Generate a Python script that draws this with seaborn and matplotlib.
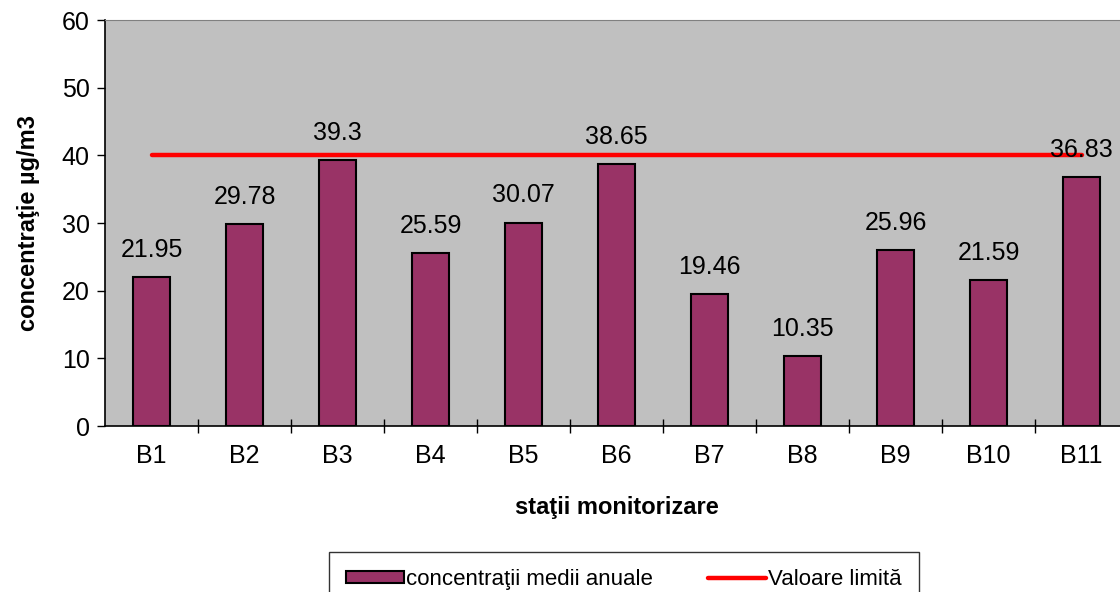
import matplotlib
matplotlib.use('Agg')
import matplotlib.pyplot as plt
from matplotlib.patches import Patch
from matplotlib.lines import Line2D
import seaborn as sns
import pandas as pd
import numpy as np

stations = ['B1', 'B2', 'B3', 'B4', 'B5', 'B6', 'B7', 'B8', 'B9', 'B10', 'B11']
values = [21.95, 29.78, 39.3, 25.59, 30.07, 38.65, 19.46, 10.35, 25.96, 21.59, 36.83]
value_labels = ['21.95', '29.78', '39.3', '25.59', '30.07', '38.65', '19.46', '10.35', '25.96', '21.59', '36.83']
limit = 40
y_ticks = [0, 10, 20, 30, 40, 50, 60]

sns.set_style('white')
plt.rcParams['font.family'] = ['Liberation Sans', 'DejaVu Sans']
plt.rcParams['text.color'] = 'black'
plt.rcParams['axes.labelcolor'] = 'black'
plt.rcParams['xtick.color'] = 'black'
plt.rcParams['ytick.color'] = 'black'

bar_color = '#993366'
df = pd.DataFrame({'station': stations, 'value': values})

fig = plt.figure(figsize=(11.2, 5.92), dpi=100)
ax = fig.add_axes([0.09375, 0.2804, 0.9134, 0.6858])
ax.set_facecolor('#C0C0C0')

sns.barplot(data=df, x='station', y='value', color=bar_color, edgecolor='black',
            linewidth=1.5, width=0.4, saturation=1, ax=ax, legend=False)
ax.plot(range(len(stations)), [limit] * len(stations), color='#FF0000', lw=3.2,
        solid_capstyle='round', zorder=3)

ax.bar_label(ax.containers[0], labels=value_labels, padding=11, fontsize=18)

ax.set_xlim(-0.5, len(stations) - 0.5)
ax.set_ylim(0, 60)
ax.set_yticks(y_ticks)
ax.tick_params(axis='y', direction='out', length=6, width=1, labelsize=18, pad=5, left=True)
ax.tick_params(axis='x', which='major', length=0, labelsize=18, pad=13)
ax.set_xticks(np.arange(0.5, len(stations) - 1, 1), minor=True)
ax.tick_params(axis='x', which='minor', direction='inout', length=10, width=1, bottom=True)

for s in ['left', 'bottom']:
    ax.spines[s].set_color('black')
    ax.spines[s].set_linewidth(1.2)
ax.spines['top'].set_color('#808080')
ax.spines['right'].set_visible(False)

ax.set_xlabel('staţii monitorizare', fontsize=17, fontweight='bold', labelpad=20)
ax.set_ylabel('concentraţie µg/m3', fontsize=17, fontweight='bold', labelpad=16)

handles = [Patch(facecolor=bar_color, edgecolor='black', linewidth=1.5),
           Line2D([], [], color='#FF0000', lw=3.2)]
labels = ['concentraţii medii anuale', 'Valoare limită']
leg = fig.legend(handles, labels, loc='upper center', bbox_to_anchor=(0.557, 0.086), ncol=2,
                 fontsize=16, frameon=True, fancybox=False, edgecolor='black',
                 borderpad=0.75, handlelength=2.6, handleheight=0.5, handletextpad=0.1,
                 columnspacing=2.5)
leg.get_frame().set_linewidth(1)

fig.savefig('out.png', dpi=100)
